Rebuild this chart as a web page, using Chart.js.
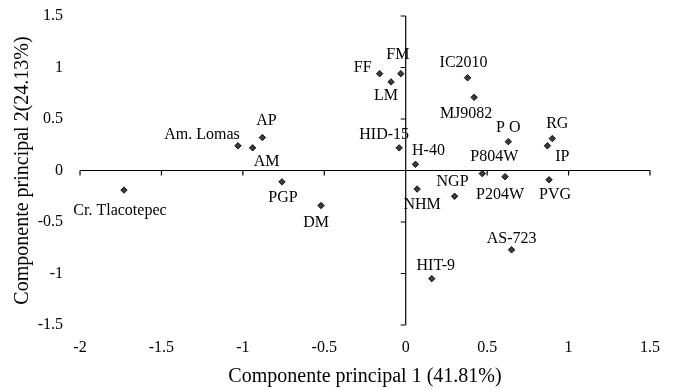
<!DOCTYPE html>
<html>
<head>
<meta charset="utf-8">
<script src="https://cdn.jsdelivr.net/npm/chart.js@4"></script>
<style>
  html, body { margin: 0; padding: 0; background: #fff; }
  #wrap { width: 673px; height: 389px; }
</style>
</head>
<body>
<div id="wrap"><canvas id="c" width="673" height="389"></canvas></div>
<script>
// ---- data ----
const names = ["Cr. Tlacotepec", "Am. Lomas", "AM", "AP", "PGP", "DM", "FF", "LM", "FM", "HID-15", "H-40", "NHM", "HIT-9", "NGP", "IC2010", "MJ9082", "P804W", "P204W", "P O", "AS-723", "IP", "RG", "PVG"];
const pc1 = [-1.73, -1.03, -0.94, -0.88, -0.76, -0.52, -0.16, -0.09, -0.03, -0.04, 0.06, 0.07, 0.16, 0.30, 0.38, 0.42, 0.47, 0.61, 0.63, 0.65, 0.87, 0.90, 0.88];
const pc2 = [-0.19, 0.24, 0.22, 0.32, -0.11, -0.34, 0.94, 0.86, 0.94, 0.22, 0.06, -0.18, -1.05, -0.25, 0.90, 0.71, -0.03, -0.06, 0.28, -0.77, 0.24, 0.31, -0.09];
const xTitle = "Componente principal 1 (41.81%)";
const yTitle = "Componente principal 2(24.13%)";

// ---- label placement (pixel offsets of label centre from its point) ----
const labelOffset = {
  "Cr. Tlacotepec": [-4, 21], "Am. Lomas": [-36, -11], "AM": [14, 14], "AP": [4, -17],
  "PGP": [1, 16], "DM": [-5, 17], "FF": [-17, -6], "LM": [-5, 14], "FM": [-3, -19],
  "HID-15": [-15, -13], "H-40": [13, -14], "NHM": [5, 16], "HIT-9": [4, -13],
  "NGP": [-2, -14], "IC2010": [-4, -15], "MJ9082": [-8, 16], "P804W": [12, -17],
  "P204W": [-5, 18], "P O": [0, -14], "AS-723": [0, -11], "IP": [15, 11],
  "RG": [5, -15], "PVG": [6, 15]
};

const FONT = "'Liberation Serif', 'Times New Roman', serif";

const points = pc1.map((v, i) => ({ x: v, y: pc2[i] }));

const zeroAxes = {
  id: 'zeroAxes',
  beforeDatasetsDraw(chart) {
    const { ctx, chartArea: a, scales: { x, y } } = chart;
    const x0 = x.getPixelForValue(0), y0 = y.getPixelForValue(0);
    ctx.save();
    ctx.strokeStyle = '#000';
    ctx.lineWidth = 1.2;
    ctx.beginPath();
    ctx.moveTo(a.left, y0); ctx.lineTo(a.right, y0);
    ctx.moveTo(x0, a.top); ctx.lineTo(x0, a.bottom);
    x.ticks.forEach(t => {
      const px = x.getPixelForValue(t.value);
      ctx.moveTo(px, y0); ctx.lineTo(px, y0 + 5);
    });
    y.ticks.forEach(t => {
      const py = y.getPixelForValue(t.value);
      ctx.moveTo(x0, py); ctx.lineTo(x0 - 5, py);
    });
    ctx.stroke();
    ctx.restore();
  }
};

const pointLabels = {
  id: 'pointLabels',
  afterDatasetsDraw(chart) {
    const { ctx } = chart;
    const meta = chart.getDatasetMeta(0);
    ctx.save();
    ctx.font = "16px " + FONT;
    ctx.fillStyle = '#000';
    ctx.textAlign = 'center';
    ctx.textBaseline = 'middle';
    meta.data.forEach((el, i) => {
      const off = labelOffset[names[i]] || [0, -12];
      ctx.fillText(names[i], el.x + off[0], el.y + off[1]);
    });
    ctx.restore();
  }
};

const fmt = v => String(v);

new Chart(document.getElementById('c'), {
  type: 'scatter',
  data: {
    datasets: [{
      data: points,
      pointStyle: 'rectRot',
      pointRadius: 3.2,
      backgroundColor: '#3a3a3a',
      borderColor: '#111',
      borderWidth: 1
    }]
  },
  options: {
    responsive: false,
    animation: false,
    layout: { padding: { top: 16, right: 23, left: 0, bottom: 0 } },
    plugins: { legend: { display: false }, tooltip: { enabled: false } },
    scales: {
      x: {
        type: 'linear', min: -2, max: 1.5,
        grid: { display: false, drawTicks: false },
        border: { display: false },
        ticks: { stepSize: 0.5, padding: 13, color: '#000', font: { family: FONT, size: 16 }, callback: fmt },
        title: { display: true, text: xTitle, color: '#000', padding: { top: 0, bottom: 2 }, font: { family: FONT, size: 20, lineHeight: 1 } },
        afterFit(s) { s.height = 64; s.paddingLeft = 0; s.paddingRight = 0; }
      },
      y: {
        type: 'linear', min: -1.5, max: 1.5,
        grid: { display: false, drawTicks: false },
        border: { display: false },
        ticks: { stepSize: 0.5, padding: 17, color: '#000', font: { family: FONT, size: 16 }, callback: fmt },
        title: { display: true, text: yTitle, color: '#000', padding: { top: 13, bottom: 0 }, font: { family: FONT, size: 20, lineHeight: 1 } },
        afterFit(s) { s.width = 80; s.paddingTop = 0; s.paddingBottom = 0; }
      }
    }
  },
  plugins: [zeroAxes, pointLabels]
});
</script>
</body>
</html>
